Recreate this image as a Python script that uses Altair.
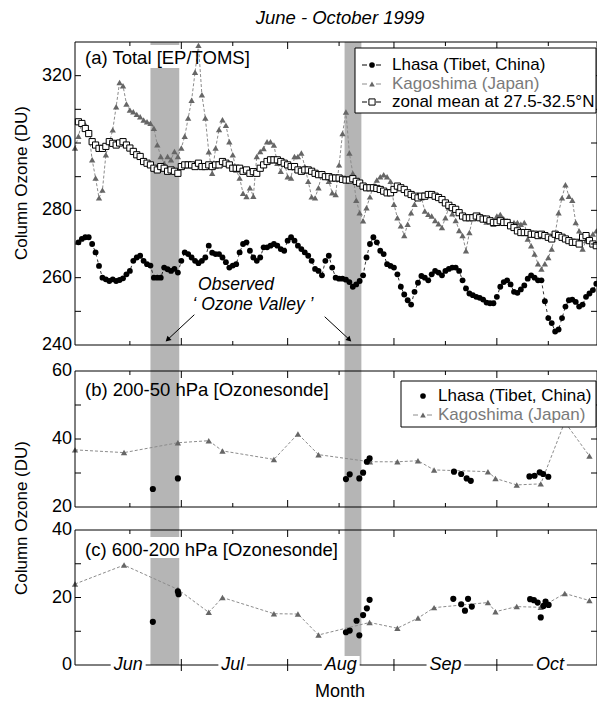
import altair as alt
import pandas as pd

T0 = pd.Timestamp("1999-06-01")


def ms(d):
    return int((T0 + pd.Timedelta(days=float(d))).value // 1_000_000)


FONT = "Liberation Sans"
W = 522
# panel tops / bottoms inside the single plot area (pixels)
A_TOP, A_BOT = 0, 303
B_TOP, B_BOT = 329, 465
C_TOP, C_BOT = 488, 623
H = C_BOT

# ---------------- data (day index: 0 = 1 June 1999) ----------------
lhasa_total = [
    270.5, 271.5, 272, 272, 270, 267.5, 263.5, 260, 259.5, 259,
    259.5, 259, 259.3, 259.8, 261, 262, 265, 266, 266.5, 265,
    264, 263.6, 260, 260, 260, 263, 262.5, 262, 262.6, 261.5,
    265, 267.5, 267, 266, 265, 264.3, 265, 266, 269.5, 267.4,
    267, 267, 266, 264.6, 263, 263.6, 264, 267.5, 270, 270.5,
    268, 266, 265, 266, 269, 269, 269.5, 270, 269.5, 268.5,
    268, 271, 272, 271, 269.5, 268.5, 267.5, 266.5, 265, 262.6,
    262, 260.7, 265, 266.5, 263, 260, 259.7, 259.7, 259.4, 258.7,
    257.3, 258, 259, 260.7, 266, 270, 272, 270.5, 268, 267,
    264, 263.5, 263, 261, 257.3, 255, 253.3, 252, 255.8, 258.5,
    260.5, 260, 259.2, 261, 262, 261.5, 260.7, 262, 262.6, 263,
    263, 262, 259.2, 256.8, 255.3, 254.8, 254.3, 254, 253.5, 252.6,
    252.4, 252.4, 254.3, 257.3, 258.7, 259.2, 258, 255.8, 255.5, 256.5,
    257.7, 259.7, 260.7, 260, 259.2, 259.2, 253, 248, 246.5, 244,
    244.6, 248, 251.4, 253.3, 253.5, 252.8, 251.4, 252, 254.3, 255.3,
    256.3, 258.2,
]
lhasa_first_day = 0

kago_total = [
    298.5, 302, 306, 305.4, 303.4, 295, 289.6, 283.7, 286, 296.5,
    300, 303.9, 310.8, 318, 317, 311.6, 309.8, 309.3, 308.5, 307.8,
    306.8, 306.3, 305.9, 304.4, 299.5, 296, 294, 296, 295, 297.5,
    296, 298.5, 302, 307.4, 312.7, 321, 329, 314.3, 307.4, 297.4,
    291, 298.5, 304, 306.9, 305.3, 300.4, 296.5, 292, 289.6, 285.1,
    284.1, 286.7, 284.2, 296, 297.5, 298.4, 300.4, 300.4, 299.4, 294,
    291.6, 294.5, 290, 289.6, 296, 296, 297, 293, 288.6, 284,
    283.7, 286.7, 291, 290, 288.6, 285.2, 284.7, 293.5, 302.8, 309.2,
    297, 291, 283, 279.3, 276.9, 280.8, 284, 287.2, 289, 290,
    290.6, 290, 288.6, 281.8, 277.8, 275.4, 272.5, 275.9, 279.3, 281.8,
    284.7, 283.7, 279.8, 278.8, 278.3, 277, 276, 274.9, 277.8, 280.8,
    279, 277, 274, 272.5, 268, 273.4, 277.8, 278.3, 278.8, 277.8,
    276.5, 277, 275.9, 278.3, 278.8, 277.5, 276.9, 276, 276.4, 276.4,
    275.9, 276.4, 271.5, 269.5, 267, 264.1, 262.6, 264.1, 266, 268.5,
    273, 279.3, 283.7, 287.6, 284.2, 283, 276.4, 273.9, 268.5, 271,
    272, 273, 273.9,
]
kago_first_day = -1

zonal_total = [
    306.3, 305.8, 304.3, 302.8, 300.4, 299.4, 298.4, 298.4, 299, 300.4,
    299.9, 299.4, 300, 300.4, 299.4, 298.5, 297.5, 296.5, 296, 294.5,
    294, 293.5, 292.5, 292, 293, 292.5, 291.6, 292, 291.6, 291,
    293, 293.5, 293.5, 293.5, 293, 294, 293, 293, 293.5, 293,
    293.5, 293.5, 294.5, 294, 293.5, 292.5, 292.5, 292.5, 291.6, 292,
    291, 291.5, 291, 292.5, 293.5, 294.5, 295, 295, 295, 294.5,
    294, 293.5, 293, 293, 292, 291.6, 292, 292, 291.6, 291,
    290.6, 290.6, 290, 290, 289.6, 289.6, 289.6, 289.2, 289, 289,
    289.4, 288.6, 288.1, 287.2, 286.7, 286.7, 286.7, 286.5, 286.2, 285.7,
    285.2, 285.2, 286.2, 287.2, 286.7, 286.2, 285.2, 284.7, 284.2, 283.7,
    284.2, 284.2, 284.7, 284.7, 284.2, 283.8, 283.2, 282.2, 281.5, 280.8,
    280.3, 279.3, 278.3, 277.8, 277.8, 277.8, 278.3, 277.8, 277.4, 277.4,
    276.9, 276.4, 276.4, 276.9, 276.4, 276.4, 275.4, 274.9, 273.9, 273.4,
    273.4, 273.4, 272.9, 272.9, 272.5, 272.9, 272.5, 272, 271.5, 272.9,
    272.5, 272, 271.5, 271, 270.5, 270.5, 270, 272, 272.5, 271,
    270, 269.5,
]
zonal_first_day = 0

b_kago_day = [-1, 13.3, 29, 38, 42, 57, 64, 70, 85, 93, 99, 103.7, 119.4, 121.6, 127.8, 134.8, 141.8, 149]
b_kago_val = [36.8, 36, 38.9, 39.5, 36.5, 34, 41.5, 35.4, 33.3, 33.3, 33.6, 30.9, 30.4, 28.4, 26.5, 26.8, 45, 35]
b_lhasa_day = [21.7, 29, 78, 79.1, 81.9, 83, 84.1, 84.9, 109.5, 111.6, 113.2, 114.4, 131.5, 133, 134.5, 135.5, 137]
b_lhasa_val = [25.3, 28.4, 28.2, 29.6, 28.4, 30.1, 33.3, 34.3, 30.4, 29.7, 28.4, 27.7, 29, 29.2, 30.2, 29.7, 28.9]

c_kago_day = [-1, 13.3, 29, 38, 42, 57, 64, 70, 84.9, 93, 99, 103.7, 119.4, 121.6, 127.8, 134.8, 141.8, 149]
c_kago_val = [24, 29.6, 22.4, 15.6, 20, 15.2, 15.1, 8.9, 12.6, 10.9, 13.9, 17, 18.5, 15.8, 17.3, 17.1, 21.2, 19.1]
c_lhasa_day = [21.7, 29, 29.2, 78, 79.1, 81.1, 81.9, 83, 84.1, 84.9, 109.3, 111.6, 112.7, 113.6, 114.7,
               131.7, 132.8, 133.9, 134.8, 135.6, 136.2, 137.1]
c_lhasa_val = [12.8, 21.8, 21, 9.7, 10.2, 13.1, 8.8, 14.8, 16.8, 19.3, 19.6, 18, 16.1, 19.6, 17.3,
               19.5, 19.2, 18.5, 14.1, 17.5, 18.8, 17.8]

band_start_day = [21.0, 77.6]
band_end_day = [29.4, 82.5]

month_names = ["Jun", "Jul", "Aug", "Sep", "Oct"]
month_label_day = [14.5, 45, 76.5, 107, 137.5]
month_label_halfwidth_day = [5.1, 4.2, 5.5, 5.5, 4.9]
month_start_day = [30, 61, 92, 122]
mid_month_day = [15, 45, 76, 107, 137]

ya_labels = [240, 260, 280, 300, 320]
ya_ticks = [250, 260, 270, 280, 290, 300, 310, 320]
yb_labels = [20, 40, 60]
yb_ticks = [30, 40, 50]
yc_labels = [0, 20, 40]
yc_ticks = [10, 20, 30]

arrow_from_day = [33.8, 71.8]
arrow_from_val = [249.0, 248.4]
arrow_to_day = [26.0, 79.0]
arrow_to_val = [241.6, 241.6]
arrow_angle = [227, 133]

# ---------------- frames ----------------
def series(vals, first):
    return pd.DataFrame({"t": [ms(first + i) for i in range(len(vals))], "v": vals})


def pts(days, vals):
    return pd.DataFrame({"t": [ms(d) for d in days], "v": vals})


df_lt = series(lhasa_total, lhasa_first_day)
df_kt = series(kago_total, kago_first_day)
df_zt = series(zonal_total, zonal_first_day)
df_bk = pts(b_kago_day, b_kago_val)
df_bl = pts(b_lhasa_day, b_lhasa_val)
df_ck = pts(c_kago_day, c_kago_val)
df_cl = pts(c_lhasa_day, c_lhasa_val)
df_band = pd.DataFrame({"s": [ms(d) for d in band_start_day], "e": [ms(d) for d in band_end_day]})
df_major = pd.DataFrame({"t": [ms(d) for d in month_start_day]})
df_minor = pd.DataFrame({"t": [ms(d) for d in mid_month_day]})
df_month = pd.DataFrame({
    "t": [ms(d) for d in month_label_day],
    "s": [ms(d - h) for d, h in zip(month_label_day, month_label_halfwidth_day)],
    "e": [ms(d + h) for d, h in zip(month_label_day, month_label_halfwidth_day)],
    "name": month_names,
})
df_arrow = pd.DataFrame({
    "t": [ms(d) for d in arrow_from_day], "v": arrow_from_val,
    "t2": [ms(d) for d in arrow_to_day], "v2": arrow_to_val,
    "ang": arrow_angle,
})
one = pd.DataFrame({"k": [0]})

xs = alt.Scale(type="utc", domain=[ms(-1), ms(151.2)])

KAGO_LINE = "#8c8c8c"
KAGO_PT = "#666666"
BAND = "#b5b5b5"


def X(f="t"):
    return alt.X(f"{f}:T", scale=xs, axis=None)


def make_y(dom, top, bot):
    sc = alt.Scale(domain=dom, range=[bot, top], nice=False, zero=False)

    def Y(f="v"):
        return alt.Y(f"{f}:Q", scale=sc, axis=None)
    return Y


def txt(label, x, y, size=18, italic=False, color="black", align="left", angle=0):
    kw = dict(font=FONT, fontSize=size, color=color, align=align, baseline="middle")
    if italic:
        kw["fontStyle"] = "italic"
    if angle:
        kw["angle"] = angle
    return alt.Chart(pd.DataFrame({"label": [label]})).mark_text(**kw).encode(
        x=alt.value(x), y=alt.value(y), text="label:N")


def box(x1, x2, y1, y2, stroke=None, fill="white"):
    if stroke:
        mk = alt.Chart(one).mark_rect(fill=fill, stroke=stroke, strokeWidth=1) if fill else \
            alt.Chart(one).mark_rect(fillOpacity=0, stroke=stroke, strokeWidth=1)
    else:
        mk = alt.Chart(one).mark_rect(fill=fill, strokeWidth=0)
    return mk.encode(x=alt.value(x1), x2=alt.value(x2), y=alt.value(y1), y2=alt.value(y2))


def axis_layers(Y, labels, yticks, top, bot, bottom_cross=False):
    dy = pd.DataFrame({"v": yticks})
    dl = pd.DataFrame({"v": labels, "s": [str(v) for v in labels]})
    L = [
        box(0, W, top, bot, stroke="black", fill=None),
        alt.Chart(dl).mark_text(font=FONT, fontSize=18, color="black", align="right", baseline="middle").encode(
            y=Y(), x=alt.value(-3), text="s:N"),
        alt.Chart(dy).mark_rule(color="black", strokeWidth=1).encode(y=Y(), x=alt.value(0), x2=alt.value(6)),
        alt.Chart(dy).mark_rule(color="black", strokeWidth=1).encode(y=Y(), x=alt.value(W - 6), x2=alt.value(W)),
        alt.Chart(df_major).mark_rule(color="black", strokeWidth=1).encode(x=X(), y=alt.value(top), y2=alt.value(top + 7)),
        alt.Chart(df_minor).mark_rule(color="black", strokeWidth=1).encode(x=X(), y=alt.value(top), y2=alt.value(top + 4)),
    ]
    if bottom_cross:
        L.append(alt.Chart(df_major).mark_rule(color="black", strokeWidth=1).encode(
            x=X(), y=alt.value(bot - 6), y2=alt.value(bot + 6)))
    else:
        L.append(alt.Chart(df_major).mark_rule(color="black", strokeWidth=1).encode(
            x=X(), y=alt.value(bot - 7), y2=alt.value(bot)))
        L.append(alt.Chart(df_minor).mark_rule(color="black", strokeWidth=1).encode(
            x=X(), y=alt.value(bot - 4), y2=alt.value(bot)))
    return L


def kago_layers(df, Y):
    return [
        alt.Chart(df).mark_line(color=KAGO_LINE, strokeWidth=1, strokeDash=[3, 2]).encode(x=X(), y=Y()),
        alt.Chart(df).mark_point(shape="triangle-up", filled=True, color=KAGO_PT, size=40, opacity=1).encode(x=X(), y=Y()),
    ]


def lhasa_pts(df, Y, size=34):
    return alt.Chart(df).mark_point(shape="circle", filled=True, color="black", size=size, opacity=1).encode(x=X(), y=Y())


def leg_entry(y, x_sym, x_text, label, kind, dashed=True):
    L = []
    if dashed:
        col = KAGO_LINE if kind == "kago" else "black"
        L.append(alt.Chart(one).mark_rule(color=col, strokeWidth=1, strokeDash=[5, 9]).encode(
            x=alt.value(x_sym - 10), x2=alt.value(x_sym + 10), y=alt.value(y)))
    if kind == "lhasa":
        L.append(alt.Chart(one).mark_point(shape="circle", filled=True, color="black", size=32, opacity=1).encode(
            x=alt.value(x_sym), y=alt.value(y)))
        col = "black"
    elif kind == "kago":
        L.append(alt.Chart(one).mark_point(shape="triangle-up", filled=True, color=KAGO_PT, size=32, opacity=1).encode(
            x=alt.value(x_sym), y=alt.value(y)))
        col = "#7a7a7a"
    else:
        L.append(alt.Chart(one).mark_point(shape="square", filled=True, fill="white", stroke="black",
                                           strokeWidth=1, size=38, opacity=1).encode(
            x=alt.value(x_sym), y=alt.value(y)))
        col = "black"
    L.append(txt(label, x_text, y, size=17, color=col))
    return L


YA = make_y([240, 330], A_TOP, A_BOT)
YB = make_y([20, 60], B_TOP, B_BOT)
YC = make_y([0, 40], C_TOP, C_BOT)

layers = [
    alt.Chart(df_band).mark_rect(color=BAND).encode(
        x=X("s"), x2=alt.X2("e:T"), y=alt.value(A_TOP), y2=alt.value(C_BOT)),
    box(4, 190, A_TOP + 3, A_TOP + 26),
    box(4, 268, C_TOP + 7, C_TOP + 28),
]

# ---- panel (a)
layers += kago_layers(df_kt, YA)
layers += [
    alt.Chart(df_zt).mark_line(color="black", strokeWidth=0.8, strokeDash=[2, 2]).encode(x=X(), y=YA()),
    alt.Chart(df_zt).mark_point(shape="square", filled=True, fill="white", stroke="black",
                                strokeWidth=1, size=38, opacity=1).encode(x=X(), y=YA()),
    alt.Chart(df_lt).mark_line(color="black", strokeWidth=0.8, strokeDash=[3, 3]).encode(x=X(), y=YA()),
    lhasa_pts(df_lt, YA, 34),
]
layers += axis_layers(YA, ya_labels, ya_ticks, A_TOP, A_BOT)
layers += [
    alt.Chart(df_arrow).mark_rule(color="black", strokeWidth=1).encode(
        x=X(), y=YA(), x2=alt.X2("t2:T"), y2=alt.Y2("v2:Q")),
    alt.Chart(df_arrow).mark_point(shape="triangle-up", filled=True, color="black", size=36, opacity=1).encode(
        x=X("t2"), y=YA("v2"), angle=alt.Angle("ang:Q", scale=None)),
    txt("Observed", 161, A_TOP + 243, size=17.5, italic=True, align="center"),
    txt("\u2018 Ozone Valley \u2019", 178, A_TOP + 263, size=17.5, italic=True, align="center"),
    box(280, W - 1, A_TOP + 6, A_TOP + 71, stroke="black"),
]
layers += leg_entry(A_TOP + 23, 297, 317, "Lhasa (Tibet, China)", "lhasa")
layers += leg_entry(A_TOP + 42, 297, 317, "Kagoshima (Japan)", "kago")
layers += leg_entry(A_TOP + 60, 297, 317, "zonal mean at 27.5-32.5\u00b0N", "zonal")
layers += [
    txt("(a) Total [EP/TOMS]", 10, A_TOP + 16, size=18.5),
    txt("June - October 1999", 265, A_TOP - 24, size=18.5, italic=True, align="center"),
    txt("Column Ozone (DU)", -53, A_TOP + 141, size=17, align="center", angle=270),
]

# ---- panel (b)
layers += kago_layers(df_bk, YB)
layers += [lhasa_pts(df_bl, YB, 38)]
layers += axis_layers(YB, yb_labels, yb_ticks, B_TOP, B_BOT)
layers += [box(326, W - 1, B_TOP + 10, B_TOP + 56, stroke="black")]
layers += leg_entry(B_TOP + 25, 348, 363, "Lhasa (Tibet, China)", "lhasa", dashed=False)
layers += leg_entry(B_TOP + 44, 348, 363, "Kagoshima (Japan)", "kago")
layers += [txt("(b) 200-50 hPa [Ozonesonde]", 10, B_TOP + 19, size=18.5)]

# ---- panel (c)
layers += kago_layers(df_ck, YC)
layers += [lhasa_pts(df_cl, YC, 38)]
layers += axis_layers(YC, yc_labels, yc_ticks, C_TOP, C_BOT, bottom_cross=True)
layers += [
    alt.Chart(df_month).mark_rect(fill="white", strokeWidth=0).encode(
        x=X("s"), x2=alt.X2("e:T"), y=alt.value(C_BOT - 9), y2=alt.value(C_BOT + 9)),
    alt.Chart(df_month).mark_text(font=FONT, fontSize=18, fontStyle="italic", color="black",
                                  align="center", baseline="middle").encode(
        x=X(), y=alt.value(C_BOT), text="name:N"),
    txt("(c) 600-200 hPa [Ozonesonde]", 10, C_TOP + 20, size=18.5),
    txt("Month", 265, C_BOT + 27, size=18, align="center"),
    txt("Column Ozone (DU)", -53, (B_TOP + C_BOT) / 2, size=17, align="center", angle=270),
]

chart = alt.layer(*layers).properties(
    width=W, height=H,
    autosize=alt.AutoSizeParams(type="none"),
    padding={"left": 67, "top": 34, "right": 0, "bottom": 38},
).resolve_scale(y="independent").configure_view(strokeWidth=0)

chart.save("out.html", embed_options={"renderer": "svg", "actions": False})
